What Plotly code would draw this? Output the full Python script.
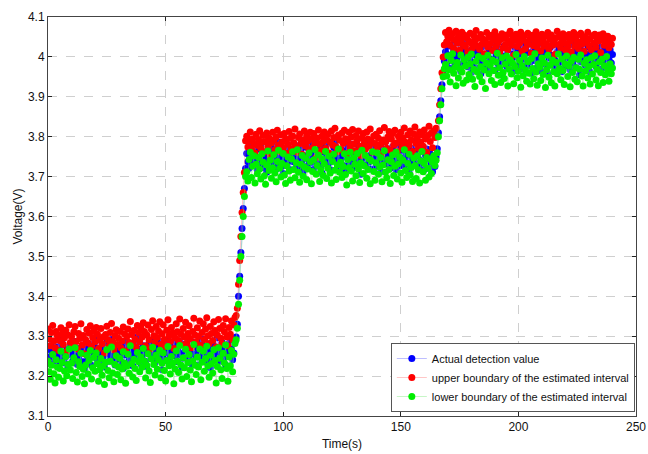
import numpy as np
import plotly.graph_objects as go

# sampling grid (s)
time_s = np.arange(0, 240.01, 0.5)

actual_value = [
    # plateau 1 (0 .. 80 s)
    3.268, 3.247, 3.231, 3.262, 3.284, 3.251, 3.239, 3.273, 3.258, 3.226,
    3.244, 3.279, 3.291, 3.256, 3.233, 3.249, 3.267, 3.221, 3.254, 3.276,
    3.263, 3.238, 3.252, 3.287, 3.271, 3.229, 3.245, 3.258, 3.296, 3.262,
    3.236, 3.218, 3.257, 3.269, 3.243, 3.281, 3.252, 3.227, 3.264, 3.248,
    3.273, 3.289, 3.241, 3.256, 3.232, 3.266, 3.277, 3.249, 3.223, 3.259,
    3.284, 3.262, 3.237, 3.251, 3.292, 3.268, 3.246, 3.228, 3.261, 3.274,
    3.243, 3.257, 3.279, 3.234, 3.219, 3.253, 3.271, 3.286, 3.258, 3.239,
    3.265, 3.248, 3.226, 3.262, 3.283, 3.297, 3.255, 3.241, 3.268, 3.231,
    3.252, 3.276, 3.263, 3.237, 3.224, 3.259, 3.282, 3.269, 3.245, 3.291,
    3.256, 3.233, 3.271, 3.248, 3.262, 3.287, 3.241, 3.216, 3.254, 3.278,
    3.265, 3.239, 3.292, 3.258, 3.247, 3.229, 3.266, 3.283, 3.251, 3.274,
    3.236, 3.261, 3.288, 3.253, 3.222, 3.245, 3.279, 3.263, 3.298, 3.257,
    3.242, 3.268, 3.231, 3.256, 3.285, 3.272, 3.249, 3.227, 3.264, 3.289,
    3.251, 3.238, 3.276, 3.293, 3.258, 3.234, 3.267, 3.245, 3.221, 3.262,
    3.281, 3.255, 3.243, 3.269, 3.296, 3.261, 3.237, 3.252, 3.284, 3.273,
    3.246, 3.228, 3.263, 3.279, 3.254, 3.291, 3.267, 3.241, 3.258, 3.286,
    3.298,
    # step 1 (80.5 .. 84 s)
    3.33, 3.40, 3.45, 3.51, 3.57, 3.62, 3.67, 3.72,
    # plateau 2 (84.5 .. 165 s)
    3.758, 3.737, 3.721, 3.752, 3.774, 3.741, 3.729, 3.763, 3.748, 3.716,
    3.734, 3.769, 3.781, 3.746, 3.723, 3.739, 3.757, 3.711, 3.744, 3.766,
    3.753, 3.728, 3.742, 3.777, 3.761, 3.719, 3.735, 3.748, 3.786, 3.752,
    3.726, 3.708, 3.747, 3.759, 3.733, 3.771, 3.742, 3.717, 3.754, 3.738,
    3.763, 3.779, 3.731, 3.746, 3.722, 3.756, 3.767, 3.739, 3.713, 3.749,
    3.774, 3.752, 3.727, 3.741, 3.782, 3.758, 3.736, 3.718, 3.751, 3.764,
    3.733, 3.747, 3.769, 3.724, 3.709, 3.743, 3.761, 3.776, 3.748, 3.729,
    3.755, 3.738, 3.716, 3.752, 3.773, 3.787, 3.745, 3.731, 3.758, 3.721,
    3.742, 3.766, 3.753, 3.727, 3.714, 3.749, 3.772, 3.759, 3.735, 3.781,
    3.746, 3.723, 3.761, 3.738, 3.752, 3.777, 3.731, 3.706, 3.744, 3.768,
    3.755, 3.729, 3.782, 3.748, 3.737, 3.719, 3.756, 3.773, 3.741, 3.764,
    3.726, 3.751, 3.778, 3.743, 3.712, 3.735, 3.769, 3.753, 3.788, 3.747,
    3.732, 3.758, 3.721, 3.746, 3.775, 3.762, 3.739, 3.717, 3.754, 3.779,
    3.741, 3.728, 3.766, 3.783, 3.748, 3.724, 3.757, 3.735, 3.711, 3.752,
    3.771, 3.745, 3.733, 3.759, 3.786, 3.751, 3.727, 3.742, 3.774, 3.763,
    3.736, 3.718, 3.753, 3.769, 3.744, 3.721, 3.757, 3.731, 3.712, 3.738,
    3.725, 3.749,
    # step 2 (165.5 .. 168.5 s)
    3.77, 3.81, 3.85, 3.89, 3.93, 3.96, 3.99,
    # plateau 3 (169 .. 240 s)
    4.013, 3.986, 4.027, 4.004, 3.971, 3.992, 4.031, 4.018, 3.979, 4.008,
    3.996, 4.035, 3.982, 3.964, 4.011, 4.024, 3.989, 4.002, 4.038, 3.975,
    3.998, 4.016, 3.961, 3.987, 4.029, 4.006, 3.973, 4.021, 3.993, 4.012,
    3.958, 3.984, 4.026, 4.001, 3.977, 4.033, 4.009, 3.968, 3.995, 4.019,
    4.036, 3.991, 3.966, 4.005, 4.023, 3.981, 4.014, 3.997, 3.954, 3.988,
    4.028, 4.003, 3.976, 4.017, 3.993, 4.039, 3.985, 3.962, 4.008, 4.025,
    3.999, 3.972, 4.015, 3.983, 4.031, 4.007, 3.969, 3.994, 4.022, 3.978,
    4.011, 4.034, 3.987, 3.959, 4.002, 4.019, 3.991, 4.027, 3.974, 3.996,
    4.013, 3.965, 3.989, 4.032, 4.006, 3.981, 4.018, 3.957, 3.997, 4.024,
    4.004, 3.979, 4.037, 3.992, 3.971, 4.012, 4.026, 3.986, 4.009, 3.963,
    3.994, 4.021, 3.977, 4.015, 4.033, 3.998, 3.968, 4.005, 3.984, 4.029,
    4.011, 3.973, 3.996, 4.023, 3.955, 3.988, 4.016, 4.035, 3.991, 3.979,
    4.007, 4.026, 3.983, 3.962, 4.001, 4.019, 3.994, 4.031, 3.976, 4.012,
    3.998, 3.969, 4.024, 4.008, 3.987, 4.015, 3.972, 4.003, 4.028, 3.993,
    4.017, 3.985, 4.006,
]

upper_bound = [
    3.318, 3.293, 3.276, 3.309, 3.327, 3.288, 3.271, 3.312, 3.301, 3.264,
    3.289, 3.321, 3.306, 3.279, 3.296, 3.315, 3.262, 3.303, 3.329, 3.284,
    3.299, 3.273, 3.311, 3.324, 3.287, 3.268, 3.307, 3.294, 3.331, 3.278,
    3.302, 3.256, 3.291, 3.317, 3.283, 3.308, 3.326, 3.274, 3.297, 3.313,
    3.286, 3.322, 3.305, 3.269, 3.292, 3.319, 3.281, 3.298, 3.258, 3.304,
    3.325, 3.291, 3.276, 3.309, 3.332, 3.287, 3.266, 3.301, 3.316, 3.279,
    3.295, 3.312, 3.271, 3.288, 3.323, 3.306, 3.263, 3.299, 3.318, 3.284,
    3.337, 3.304, 3.281, 3.314, 3.293, 3.272, 3.327, 3.309, 3.286, 3.321,
    3.298, 3.334, 3.312, 3.276, 3.303, 3.328, 3.291, 3.268, 3.317, 3.339,
    3.301, 3.285, 3.324, 3.297, 3.313, 3.336, 3.279, 3.306, 3.329, 3.292,
    3.274, 3.315, 3.341, 3.302, 3.287, 3.322, 3.308, 3.269, 3.296, 3.331,
    3.311, 3.289, 3.343, 3.305, 3.278, 3.319, 3.298, 3.335, 3.283, 3.307,
    3.326, 3.294, 3.271, 3.312, 3.345, 3.303, 3.286, 3.321, 3.299, 3.338,
    3.277, 3.309, 3.331, 3.292, 3.318, 3.346, 3.301, 3.282, 3.324, 3.307,
    3.289, 3.336, 3.314, 3.273, 3.303, 3.342, 3.319, 3.295, 3.281, 3.327,
    3.311, 3.344, 3.298, 3.276, 3.322, 3.305, 3.338, 3.291, 3.329, 3.347,
    3.352,
    3.37, 3.43, 3.49, 3.55, 3.61, 3.66, 3.71, 3.79,
    3.801, 3.774, 3.789, 3.812, 3.768, 3.795, 3.782, 3.759, 3.806, 3.778,
    3.793, 3.815, 3.771, 3.786, 3.803, 3.762, 3.788, 3.809, 3.776, 3.797,
    3.752, 3.784, 3.811, 3.791, 3.767, 3.799, 3.816, 3.779, 3.763, 3.805,
    3.787, 3.772, 3.808, 3.794, 3.758, 3.781, 3.813, 3.796, 3.769, 3.802,
    3.785, 3.819, 3.774, 3.761, 3.798, 3.807, 3.783, 3.756, 3.792, 3.814,
    3.777, 3.803, 3.789, 3.766, 3.811, 3.795, 3.773, 3.808, 3.784, 3.748,
    3.797, 3.817, 3.781, 3.764, 3.802, 3.788, 3.812, 3.771, 3.793, 3.806,
    3.759, 3.786, 3.814, 3.779, 3.798, 3.821, 3.775, 3.762, 3.804, 3.791,
    3.768, 3.809, 3.783, 3.816, 3.795, 3.757, 3.787, 3.811, 3.774, 3.799,
    3.818, 3.782, 3.765, 3.803, 3.791, 3.814, 3.776, 3.753, 3.797, 3.808,
    3.785, 3.769, 3.812, 3.794, 3.777, 3.819, 3.788, 3.761, 3.802, 3.783,
    3.806, 3.773, 3.796, 3.815, 3.781, 3.758, 3.792, 3.823, 3.787, 3.771,
    3.799, 3.813, 3.766, 3.794, 3.808, 3.779, 3.816, 3.784, 3.762, 3.801,
    3.789, 3.811, 3.775, 3.797, 3.822, 3.786, 3.768, 3.805, 3.779, 3.814,
    3.792, 3.763, 3.807, 3.824, 3.783, 3.798, 3.771, 3.812, 3.787, 3.805,
    3.776, 3.817, 3.794, 3.761, 3.803, 3.826, 3.788, 3.809, 3.772, 3.815,
    3.798, 3.821,
    3.80, 3.84, 3.88, 3.92, 3.96, 4.00, 4.03,
    4.061, 4.038, 4.052, 4.067, 4.029, 4.046, 4.058, 4.021, 4.043, 4.064,
    4.035, 4.051, 4.017, 4.044, 4.062, 4.031, 4.055, 4.026, 4.048, 4.013,
    4.039, 4.059, 4.034, 4.022, 4.053, 4.041, 4.066, 4.028, 4.047, 4.019,
    4.056, 4.032, 4.045, 4.008, 4.037, 4.061, 4.025, 4.049, 4.033, 4.054,
    4.016, 4.042, 4.063, 4.027, 4.051, 4.036, 4.011, 4.044, 4.058, 4.023,
    4.047, 4.031, 4.055, 4.018, 4.039, 4.064, 4.029, 4.052, 4.004, 4.041,
    4.057, 4.026, 4.048, 4.035, 4.062, 4.014, 4.043, 4.053, 4.021, 4.037,
    4.059, 4.032, 4.046, 4.009, 4.054, 4.028, 4.041, 4.063, 4.024, 4.049,
    4.036, 4.015, 4.057, 4.042, 4.027, 4.052, 4.033, 4.061, 4.019, 4.045,
    4.055, 4.029, 4.038, 4.006, 4.048, 4.064, 4.031, 4.053, 4.022, 4.044,
    4.058, 4.035, 4.017, 4.049, 4.026, 4.056, 4.039, 4.012, 4.046, 4.061,
    4.027, 4.042, 4.054, 4.021, 4.037, 4.059, 4.032, 4.048, 4.014, 4.051,
    4.036, 4.062, 4.028, 4.045, 4.018, 4.053, 4.034, 4.057, 4.024, 4.047,
    4.039, 4.055, 4.011, 4.043, 4.058, 4.029, 4.049, 4.035, 4.052, 4.023,
    4.044, 4.031, 4.047,
]

lower_bound = [
    3.238, 3.211, 3.192, 3.227, 3.254, 3.206, 3.183, 3.241, 3.222, 3.197,
    3.219, 3.262, 3.234, 3.188, 3.213, 3.249, 3.201, 3.229, 3.268, 3.215,
    3.232, 3.194, 3.246, 3.271, 3.209, 3.185, 3.236, 3.224, 3.257, 3.199,
    3.217, 3.181, 3.228, 3.252, 3.205, 3.239, 3.264, 3.193, 3.221, 3.247,
    3.212, 3.258, 3.231, 3.187, 3.216, 3.244, 3.202, 3.226, 3.179, 3.235,
    3.266, 3.214, 3.196, 3.237, 3.273, 3.208, 3.186, 3.229, 3.251, 3.204,
    3.223, 3.245, 3.191, 3.218, 3.261, 3.233, 3.182, 3.225, 3.255, 3.207,
    3.276, 3.231, 3.198, 3.242, 3.219, 3.189, 3.259, 3.236, 3.211, 3.248,
    3.222, 3.269, 3.238, 3.195, 3.227, 3.256, 3.213, 3.184, 3.243, 3.272,
    3.229, 3.203, 3.253, 3.217, 3.241, 3.265, 3.196, 3.232, 3.258, 3.214,
    3.188, 3.239, 3.274, 3.226, 3.205, 3.249, 3.233, 3.181, 3.218, 3.263,
    3.237, 3.209, 3.277, 3.228, 3.193, 3.246, 3.221, 3.267, 3.199, 3.234,
    3.254, 3.215, 3.186, 3.238, 3.279, 3.227, 3.204, 3.248, 3.223, 3.268,
    3.191, 3.235, 3.262, 3.212, 3.244, 3.275, 3.226, 3.197, 3.252, 3.231,
    3.208, 3.266, 3.239, 3.183, 3.224, 3.271, 3.245, 3.216, 3.194, 3.257,
    3.233, 3.278, 3.219, 3.187, 3.248, 3.226, 3.264, 3.211, 3.255, 3.282,
    3.291,
    3.32, 3.38, 3.44, 3.50, 3.55, 3.60, 3.65, 3.70,
    3.712, 3.689, 3.743, 3.761, 3.698, 3.726, 3.752, 3.684, 3.731, 3.707,
    3.748, 3.719, 3.694, 3.757, 3.736, 3.702, 3.681, 3.729, 3.764, 3.715,
    3.741, 3.696, 3.722, 3.755, 3.709, 3.687, 3.738, 3.766, 3.721, 3.699,
    3.733, 3.758, 3.704, 3.683, 3.727, 3.749, 3.714, 3.691, 3.744, 3.762,
    3.718, 3.697, 3.735, 3.767, 3.711, 3.686, 3.731, 3.753, 3.701, 3.724,
    3.746, 3.692, 3.719, 3.759, 3.737, 3.682, 3.713, 3.742, 3.768, 3.706,
    3.728, 3.754, 3.688, 3.717, 3.745, 3.703, 3.732, 3.763, 3.695, 3.721,
    3.751, 3.709, 3.684, 3.738, 3.756, 3.716, 3.693, 3.729, 3.769, 3.711,
    3.736, 3.698, 3.725, 3.757, 3.705, 3.679, 3.743, 3.722, 3.761, 3.714,
    3.689, 3.747, 3.731, 3.702, 3.758, 3.719, 3.685, 3.734, 3.766, 3.708,
    3.727, 3.753, 3.696, 3.718, 3.744, 3.682, 3.739, 3.762, 3.713, 3.691,
    3.735, 3.759, 3.706, 3.724, 3.748, 3.687, 3.729, 3.765, 3.711, 3.697,
    3.742, 3.718, 3.683, 3.737, 3.754, 3.703, 3.726, 3.761, 3.694, 3.732,
    3.749, 3.709, 3.686, 3.741, 3.767, 3.715, 3.698, 3.733, 3.756, 3.704,
    3.723, 3.688, 3.746, 3.728, 3.695, 3.752, 3.717, 3.684, 3.739, 3.763,
    3.712, 3.733, 3.691, 3.748, 3.721, 3.699, 3.744, 3.708, 3.736, 3.752,
    3.728, 3.741,
    3.76, 3.80, 3.84, 3.88, 3.92, 3.95, 3.97,
    3.981, 3.952, 4.003, 3.968, 3.937, 3.991, 4.008, 3.959, 3.974, 3.928,
    3.986, 3.947, 3.971, 4.005, 3.962, 3.934, 3.993, 3.977, 3.942, 3.999,
    3.956, 3.983, 4.007, 3.944, 3.969, 3.926, 3.989, 3.963, 4.001, 3.951,
    3.975, 3.938, 3.996, 3.967, 3.921, 3.984, 4.004, 3.958, 3.979, 3.941,
    3.992, 3.966, 3.931, 3.987, 4.009, 3.954, 3.973, 3.936, 3.998, 3.961,
    3.946, 3.982, 4.002, 3.927, 3.969, 3.993, 3.957, 3.985, 3.933, 3.976,
    4.006, 3.948, 3.964, 3.991, 3.924, 3.978, 3.953, 4.001, 3.967, 3.939,
    3.988, 3.959, 3.932, 3.996, 3.971, 3.945, 4.008, 3.962, 3.929, 3.983,
    3.974, 3.941, 3.997, 3.956, 3.985, 3.923, 3.968, 4.004, 3.949, 3.979,
    3.935, 3.992, 3.963, 3.927, 3.986, 3.958, 4.007, 3.971, 3.943, 3.995,
    3.966, 3.931, 3.982, 4.002, 3.951, 3.977, 3.925, 3.989, 3.961, 3.999,
    3.944, 3.973, 3.938, 3.994, 3.969, 4.005, 3.952, 3.927, 3.984, 3.964,
    3.993, 3.947, 3.976, 3.932, 3.998, 3.957, 3.981, 4.003, 3.942, 3.969,
    3.928, 3.987, 3.961, 3.994, 3.936, 3.978, 3.955, 4.001, 3.967, 3.939,
    3.983, 3.958, 3.972,
]

series_names = [
    "Actual detection value",
    "upper boundary of the estimated interval",
    "lower boundary of the estimated interval",
]
x_ticks = [0, 50, 100, 150, 200, 250]
y_ticks = [3.1, 3.2, 3.3, 3.4, 3.5, 3.6, 3.7, 3.8, 3.9, 4.0, 4.1]
y_tick_text = ["3.1", "3.2", "3.3", "3.4", "3.5", "3.6", "3.7", "3.8", "3.9", "4", "4.1"]

colors = ["#0000ff", "#ff0000", "#00ee00"]
line_colors = ["rgba(110,110,255,0.5)", "rgba(255,130,130,0.5)", "rgba(130,235,130,0.5)"]

fig = go.Figure()
for name, ys, c, lc in zip(series_names, [actual_value, upper_bound, lower_bound], colors, line_colors):
    n = min(len(time_s), len(ys))
    fig.add_trace(go.Scatter(
        x=time_s[:n], y=ys[:n], name=name, mode="lines+markers",
        line=dict(color=lc, width=0.9),
        marker=dict(color=c, size=7, line=dict(width=0)),
    ))

font_family = "Liberation Sans, Arial, sans-serif"
fig.update_layout(
    width=648, height=454,
    margin=dict(l=48, r=12, t=17, b=38),
    paper_bgcolor="white", plot_bgcolor="white",
    font=dict(family=font_family, size=12, color="#111"),
    legend=dict(
        x=0.998, y=0.01, xanchor="right", yanchor="bottom",
        bgcolor="white", bordercolor="#555", borderwidth=1,
        font=dict(size=11, family=font_family),
        itemwidth=30, tracegroupgap=0,
    ),
    showlegend=True,
)
fig.update_xaxes(
    range=[0, 250], tickvals=x_ticks, ticktext=[str(v) for v in x_ticks],
    showgrid=True, gridcolor="#cfcfcf", griddash="dash", gridwidth=1,
    showline=True, linecolor="#444", linewidth=1, mirror="ticks",
    ticks="inside", ticklen=4, tickcolor="#222",
    zeroline=False, automargin=False,
    title=dict(text="Time(s)", standoff=6, font=dict(size=12)),
)
fig.update_yaxes(
    range=[3.1, 4.1], tickvals=y_ticks, ticktext=y_tick_text,
    showgrid=True, gridcolor="#cfcfcf", griddash="dash", gridwidth=1,
    showline=True, linecolor="#444", linewidth=1, mirror="ticks",
    ticks="inside", ticklen=4, tickcolor="#222",
    zeroline=False, automargin=False,
    title=dict(text="Voltage(V)", standoff=2, font=dict(size=12)),
)

fig.write_html("out.html")
